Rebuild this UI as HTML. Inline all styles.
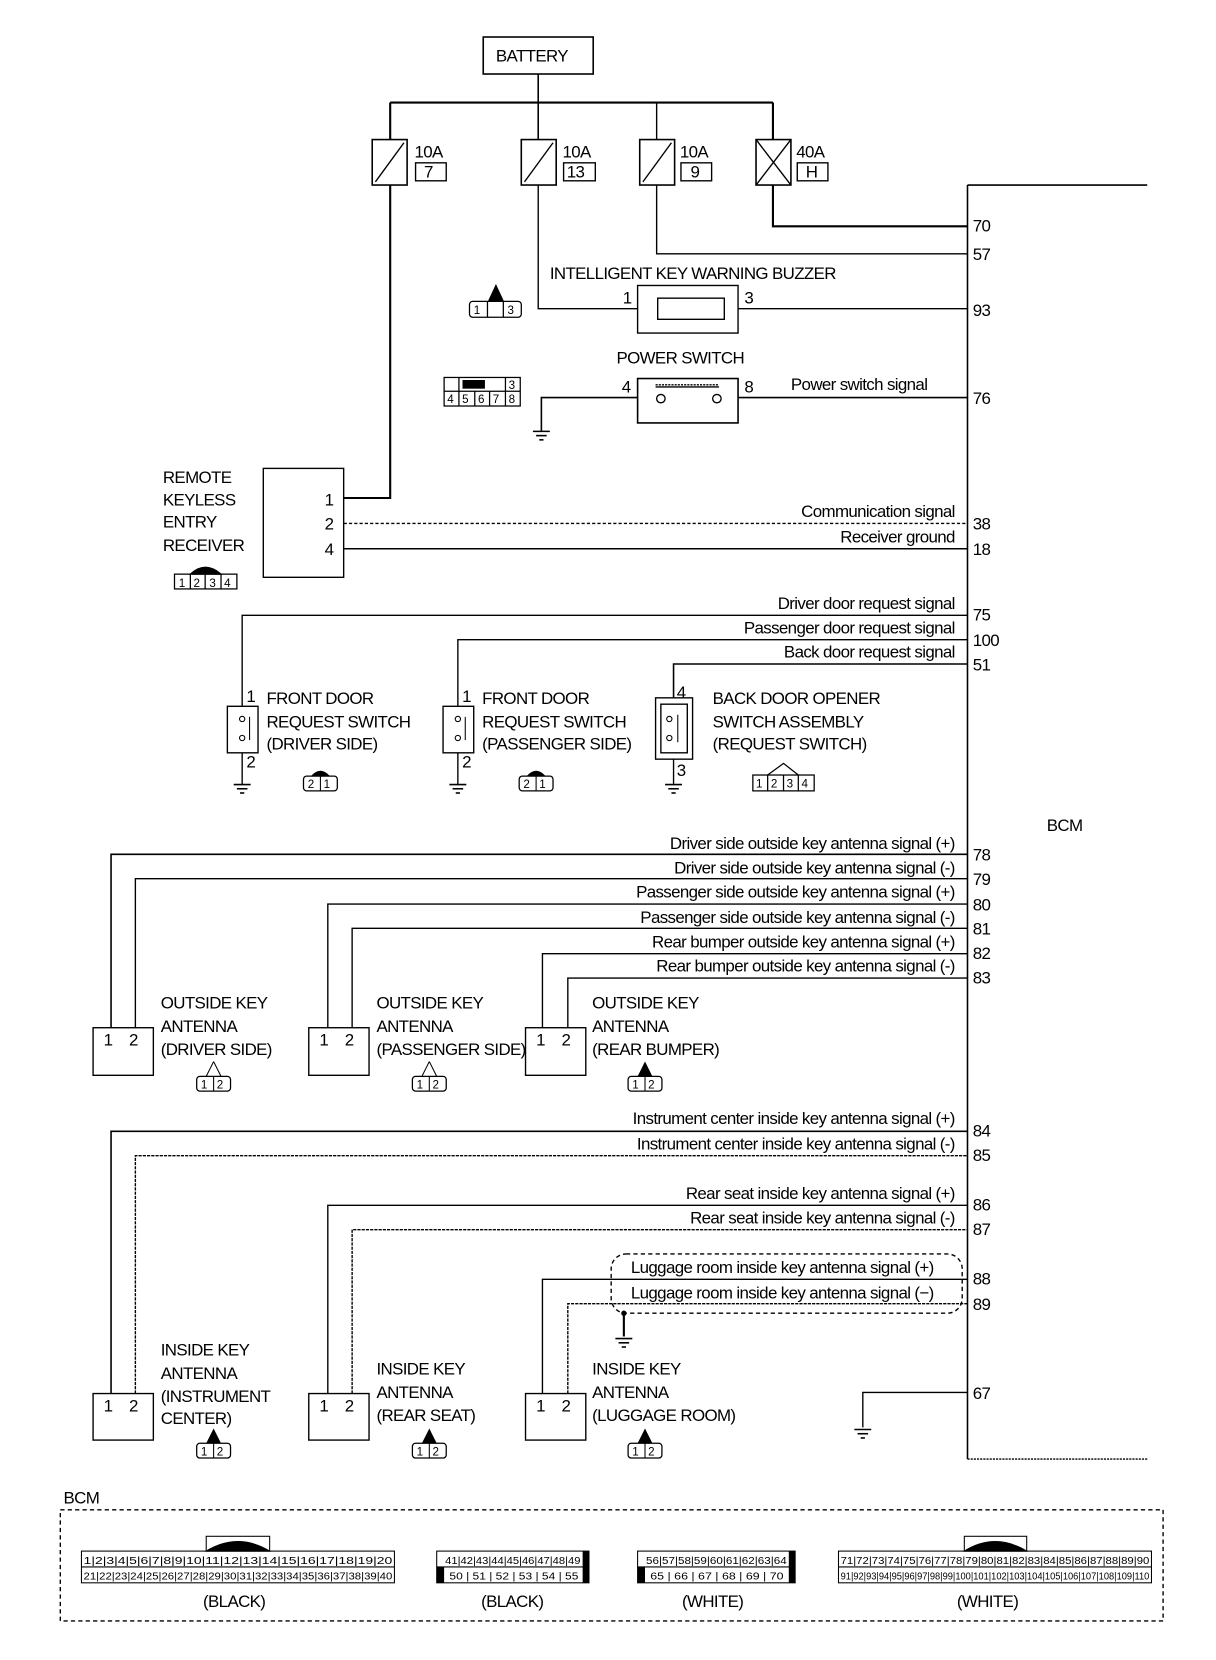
<!DOCTYPE html>
<html><head><meta charset="utf-8"><style>
html,body{margin:0;padding:0;background:#fff}
svg{display:block}
text{font-family:"Liberation Sans Narrow","Liberation Sans",Arial,sans-serif;fill:#000}
.t text{letter-spacing:-0.6px}
</style></head><body>
<svg width="1216" height="1660" viewBox="0 0 1150 1570" xmlns="http://www.w3.org/2000/svg">
<defs>
<g id="gnd"><line x1="-8" y1="0" x2="8" y2="0" stroke="#000" stroke-width="1.5"/><line x1="-5" y1="4" x2="5" y2="4" stroke="#000" stroke-width="1.5"/><line x1="-2" y1="8" x2="2" y2="8" stroke="#000" stroke-width="1.5"/></g>
<g id="c12"><rect x="0" y="0" width="32" height="14" rx="3" fill="#fff" stroke="#000" stroke-width="1.2"/><line x1="16" y1="0" x2="16" y2="14" stroke="#000"/><text x="4" y="11.5" font-size="11">1</text><text x="19" y="11.5" font-size="11">2</text></g>
<g id="c21"><rect x="0" y="0" width="32" height="14" rx="3" fill="#fff" stroke="#000" stroke-width="1.2"/><line x1="16" y1="0" x2="16" y2="14" stroke="#000"/><text x="4" y="11.5" font-size="11">2</text><text x="19" y="11.5" font-size="11">1</text><path d="M7 0 Q16 -10 25 0Z" fill="#000"/></g>
</defs>
<g fill="none" stroke="#000" stroke-width="1.3">
<rect x="457" y="35" width="104" height="35" stroke-width="1.5"/>
<line x1="509" y1="70" x2="509" y2="97" stroke-width="1.5"/>
<line x1="369" y1="97" x2="731" y2="97" stroke-width="2"/>
<line x1="369" y1="97" x2="369" y2="132" stroke-width="2"/>
<line x1="509" y1="97" x2="509" y2="132" stroke-width="1.5"/>
<line x1="621" y1="97" x2="621" y2="132"/>
<line x1="731" y1="97" x2="731" y2="132" stroke-width="2"/>
<rect x="352" y="132" width="33" height="43" stroke-width="1.5"/><line x1="355" y1="172" x2="382" y2="135"/>
<rect x="493" y="132" width="33" height="43" stroke-width="1.5"/><line x1="496" y1="172" x2="523" y2="135"/>
<rect x="605" y="132" width="33" height="43" stroke-width="1.5"/><line x1="608" y1="172" x2="635" y2="135"/>
<rect x="715" y="132" width="33" height="43" stroke-width="1.5"/><line x1="715" y1="132" x2="748" y2="175"/><line x1="748" y1="132" x2="715" y2="175"/>
<rect x="393" y="154" width="29" height="17"/><rect x="533" y="154" width="30" height="17"/><rect x="644" y="154" width="29" height="17"/><rect x="754" y="154" width="29" height="17"/>
<polyline points="369,175 369,471 325,471" stroke-width="2"/>
<polyline points="509,175 509,292 603,292"/>
<polyline points="621,175 621,240 915,240"/>
<polyline points="731,175 731,214 915,214" stroke-width="2"/>
<line x1="915" y1="175" x2="915" y2="1380" stroke-width="1.5"/>
<line x1="915" y1="175" x2="1085" y2="175" stroke-width="1.5"/>
<line x1="915" y1="1380" x2="1085" y2="1380" stroke-dasharray="2,1"/>
<rect x="603" y="270" width="95" height="45"/>
<rect x="622" y="282" width="63" height="20"/>
<line x1="698" y1="292" x2="915" y2="292"/>
<rect x="603" y="358" width="95" height="42" stroke-width="1.5"/>
<line x1="620" y1="364" x2="680" y2="364" stroke-dasharray="2,1"/>
<line x1="620" y1="366" x2="680" y2="366"/>
<circle cx="625" cy="377" r="4" fill="#fff"/><circle cx="678" cy="377" r="4" fill="#fff"/>
<polyline points="603,376 512,376 512,408" stroke-width="1.5"/>
<line x1="698" y1="376" x2="915" y2="376" stroke-width="1.5"/>
<rect x="249" y="443" width="76" height="103"/>
<line x1="325" y1="495" x2="915" y2="495" stroke-dasharray="3,2"/>
<line x1="325" y1="519" x2="915" y2="519" stroke-width="1.5"/>
<polyline points="229,668 229,582 915,582"/>
<polyline points="433,668 433,605 915,605"/>
<polyline points="637,660 637,628 915,628" stroke-width="1.5"/>
<rect x="215" y="668" width="29" height="44"/><line x1="229" y1="712" x2="229" y2="742"/>
<rect x="419" y="668" width="29" height="44"/><line x1="433" y1="712" x2="433" y2="742"/>
<rect x="620" y="660" width="35" height="58"/><rect x="625" y="666" width="25" height="46"/><line x1="637" y1="718" x2="637" y2="742"/>
<g stroke-width="1"><circle cx="229" cy="680" r="2.5"/><circle cx="229" cy="698" r="2.5"/><line x1="236" y1="678" x2="236" y2="700"/>
<circle cx="433" cy="680" r="2.5"/><circle cx="433" cy="698" r="2.5"/><line x1="440" y1="678" x2="440" y2="700"/>
<circle cx="633" cy="680" r="2.5"/><circle cx="633" cy="698" r="2.5"/><line x1="641" y1="676" x2="641" y2="702"/></g>
<polyline points="105,972 105,808 915,808" stroke-width="1.5"/>
<polyline points="128,972 128,831 915,831"/>
<polyline points="310,972 310,855 915,855"/>
<polyline points="333,972 333,878 915,878"/>
<polyline points="513,972 513,902 915,902"/>
<polyline points="537,972 537,925 915,925"/>
<rect x="88" y="972" width="57" height="45"/><rect x="292" y="972" width="57" height="45"/><rect x="497" y="972" width="57" height="45"/>
<polyline points="105,1318 105,1070 915,1070" stroke-width="1.5"/>
<polyline points="128,1318 128,1093 915,1093" stroke-dasharray="3,1"/>
<polyline points="310,1318 310,1140 915,1140"/>
<polyline points="333,1318 333,1163 915,1163" stroke-dasharray="3,1"/>
<polyline points="513,1318 513,1210 915,1210"/>
<polyline points="537,1318 537,1233 915,1233" stroke-dasharray="3,1"/>
<rect x="88" y="1318" width="57" height="44"/><rect x="292" y="1318" width="57" height="44"/><rect x="497" y="1318" width="57" height="44"/>
<rect x="578" y="1186" width="332" height="56" rx="14" stroke-dasharray="4,3"/>
<line x1="590" y1="1242" x2="590" y2="1264" stroke-width="2"/>
<polyline points="915,1317 816,1317 816,1350"/>
<rect x="57" y="1428" width="1043" height="105" stroke-dasharray="4,3"/>
</g>
<use href="#gnd" x="512" y="408"/><use href="#gnd" x="229" y="742"/><use href="#gnd" x="433" y="742"/><use href="#gnd" x="637" y="742"/><use href="#gnd" x="590" y="1266"/><use href="#gnd" x="816" y="1352"/>
<circle cx="590" cy="1242" r="2.5" fill="#000"/>
<g font-size="16" class="t">
<text x="469" y="58">BATTERY</text>
<text x="392" y="149">10A</text><text x="401" y="168">7</text>
<text x="532" y="149">10A</text><text x="536" y="168">13</text>
<text x="643" y="149">10A</text><text x="653" y="168">9</text>
<text x="753" y="149">40A</text><text x="762" y="168">H</text>
<text x="520" y="264">INTELLIGENT KEY WARNING BUZZER</text>
<text x="589" y="287">1</text><text x="704" y="287">3</text>
<text x="583" y="344">POWER SWITCH</text>
<text x="588" y="371">4</text><text x="704" y="371">8</text>
<text x="748" y="369">Power switch signal</text>
<text x="154" y="457">REMOTE</text><text x="154" y="478">KEYLESS</text><text x="154" y="499">ENTRY</text><text x="154" y="521">RECEIVER</text>
<text x="307" y="478">1</text><text x="307" y="501">2</text><text x="307" y="525">4</text>
<g text-anchor="end">
<text x="903" y="489">Communication signal</text><text x="903" y="513">Receiver ground</text>
<text x="903" y="576">Driver door request signal</text><text x="903" y="599">Passenger door request signal</text><text x="903" y="622">Back door request signal</text>
<text x="903" y="803">Driver side outside key antenna signal (+)</text>
<text x="903" y="826">Driver side outside key antenna signal (-)</text>
<text x="903" y="849">Passenger side outside key antenna signal (+)</text>
<text x="903" y="873">Passenger side outside key antenna signal (-)</text>
<text x="903" y="896">Rear bumper outside key antenna signal (+)</text>
<text x="903" y="919">Rear bumper outside key antenna signal (-)</text>
<text x="903" y="1063">Instrument center inside key antenna signal (+)</text>
<text x="903" y="1087">Instrument center inside key antenna signal (-)</text>
<text x="903" y="1134">Rear seat inside key antenna signal (+)</text>
<text x="903" y="1157">Rear seat inside key antenna signal (-)</text>
<text x="883" y="1204">Luggage room inside key antenna signal (+)</text>
<text x="883" y="1228">Luggage room inside key antenna signal (−)</text>
</g>
<text x="233" y="664">1</text><text x="233" y="726">2</text>
<text x="437" y="664">1</text><text x="437" y="726">2</text>
<text x="640" y="660">4</text><text x="640" y="734">3</text>
<text x="252" y="666">FRONT DOOR</text><text x="252" y="688">REQUEST SWITCH</text><text x="252" y="709">(DRIVER SIDE)</text>
<text x="456" y="666">FRONT DOOR</text><text x="456" y="688">REQUEST SWITCH</text><text x="456" y="709">(PASSENGER SIDE)</text>
<text x="674" y="666">BACK DOOR OPENER</text><text x="674" y="688">SWITCH ASSEMBLY</text><text x="674" y="709">(REQUEST SWITCH)</text>
<text x="990" y="786">BCM</text>
<text x="920" y="219">70</text><text x="920" y="246">57</text><text x="920" y="299">93</text><text x="920" y="382">76</text>
<text x="920" y="501">38</text><text x="920" y="525">18</text><text x="920" y="587">75</text><text x="920" y="611">100</text><text x="920" y="634">51</text>
<text x="920" y="814">78</text><text x="920" y="837">79</text><text x="920" y="861">80</text><text x="920" y="884">81</text><text x="920" y="907">82</text><text x="920" y="930">83</text>
<text x="920" y="1075">84</text><text x="920" y="1098">85</text><text x="920" y="1145">86</text><text x="920" y="1168">87</text><text x="920" y="1215">88</text><text x="920" y="1239">89</text><text x="920" y="1323">67</text>
<text x="98" y="989">1</text><text x="122" y="989">2</text><text x="302" y="989">1</text><text x="326" y="989">2</text><text x="507" y="989">1</text><text x="531" y="989">2</text>
<text x="152" y="954">OUTSIDE KEY</text><text x="152" y="976">ANTENNA</text><text x="152" y="998">(DRIVER SIDE)</text>
<text x="356" y="954">OUTSIDE KEY</text><text x="356" y="976">ANTENNA</text><text x="356" y="998">(PASSENGER SIDE)</text>
<text x="560" y="954">OUTSIDE KEY</text><text x="560" y="976">ANTENNA</text><text x="560" y="998">(REAR BUMPER)</text>
<text x="98" y="1335">1</text><text x="122" y="1335">2</text><text x="302" y="1335">1</text><text x="326" y="1335">2</text><text x="507" y="1335">1</text><text x="531" y="1335">2</text>
<text x="152" y="1282">INSIDE KEY</text><text x="152" y="1304">ANTENNA</text><text x="152" y="1326">(INSTRUMENT</text><text x="152" y="1347">CENTER)</text>
<text x="356" y="1300">INSIDE KEY</text><text x="356" y="1322">ANTENNA</text><text x="356" y="1344">(REAR SEAT)</text>
<text x="560" y="1300">INSIDE KEY</text><text x="560" y="1322">ANTENNA</text><text x="560" y="1344">(LUGGAGE ROOM)</text>
<text x="60" y="1422">BCM</text>
<text x="192" y="1520">(BLACK)</text><text x="455" y="1520">(BLACK)</text><text x="645" y="1520">(WHITE)</text><text x="905" y="1520">(WHITE)</text>
</g>
<g stroke="#000" fill="#fff" stroke-width="1.2">
<rect x="444" y="285" width="49" height="15" rx="3"/><line x1="461" y1="285" x2="461" y2="300"/><line x1="476" y1="285" x2="476" y2="300"/>
<path d="M469 270 L462 285 L476 285Z" fill="#000"/>
<rect x="420" y="357" width="72" height="27"/><line x1="420" y1="370" x2="492" y2="370"/>
<line x1="434" y1="357" x2="434" y2="384"/><line x1="449" y1="370" x2="449" y2="384"/><line x1="463" y1="370" x2="463" y2="384"/><line x1="478" y1="357" x2="478" y2="384"/>
<rect x="438" y="360" width="20" height="7" fill="#000"/>
<rect x="165" y="543" width="59" height="14"/><line x1="180" y1="543" x2="180" y2="557"/><line x1="194" y1="543" x2="194" y2="557"/><line x1="209" y1="543" x2="209" y2="557"/>
<path d="M180 543 Q194 530 209 543Z" fill="#000"/>
<rect x="712" y="733" width="58" height="15"/><line x1="726" y1="733" x2="726" y2="748"/><line x1="741" y1="733" x2="741" y2="748"/><line x1="755" y1="733" x2="755" y2="748"/>
<path d="M726 733 L741 722 L755 733" fill="none"/>
</g>
<g font-size="11">
<text x="448" y="297">1</text><text x="480" y="297">3</text>
<text x="481" y="368">3</text><text x="423" y="381">4</text><text x="437" y="381">5</text><text x="452" y="381">6</text><text x="466" y="381">7</text><text x="481" y="381">8</text>
<text x="169" y="555">1</text><text x="183" y="555">2</text><text x="198" y="555">3</text><text x="212" y="555">4</text>
<text x="715" y="745">1</text><text x="729" y="745">2</text><text x="744" y="745">3</text><text x="758" y="745">4</text>
</g>
<use href="#c21" x="287" y="734"/><use href="#c21" x="491" y="734"/>
<use href="#c12" x="186" y="1018"/><use href="#c12" x="390" y="1018"/><use href="#c12" x="594" y="1018"/>
<path d="M202 1004 L195 1018 M202 1004 L209 1018" stroke="#000" fill="none"/>
<path d="M406 1004 L399 1018 M406 1004 L413 1018" stroke="#000" fill="none"/>
<path d="M610 1004 L603 1018 L617 1018Z" fill="#000"/>
<use href="#c12" x="186" y="1365"/><use href="#c12" x="390" y="1365"/><use href="#c12" x="594" y="1365"/>
<path d="M202 1351 L195 1365 L209 1365Z" fill="#000"/><path d="M406 1351 L399 1365 L413 1365Z" fill="#000"/><path d="M610 1351 L603 1365 L617 1365Z" fill="#000"/>
<g stroke="#000" stroke-width="1" fill="#fff">
<rect x="77" y="1467" width="296" height="30"/><line x1="77" y1="1482" x2="373" y2="1482"/>
<rect x="195" y="1453" width="60" height="14"/><path d="M195 1467 Q225 1449 255 1467Z" fill="#000"/>
<rect x="413" y="1467" width="144" height="30"/><line x1="413" y1="1482" x2="557" y2="1482"/>
<rect x="603" y="1467" width="149" height="30"/><line x1="603" y1="1482" x2="752" y2="1482"/>
<rect x="793" y="1467" width="296" height="30"/><line x1="793" y1="1482" x2="1089" y2="1482"/>
<rect x="912" y="1453" width="59" height="14"/><path d="M912 1467 Q941 1449 971 1467Z" fill="#000"/>
</g>
<g fill="#000"><rect x="413" y="1482" width="7" height="15"/><rect x="551" y="1467" width="6" height="30"/><rect x="603" y="1482" width="7" height="15"/><rect x="746" y="1467" width="6" height="30"/></g>
<g font-size="10">
<text x="79" y="1479" textLength="292" lengthAdjust="spacingAndGlyphs">1|2|3|4|5|6|7|8|9|10|11|12|13|14|15|16|17|18|19|20</text>
<text x="79" y="1494" textLength="292" lengthAdjust="spacingAndGlyphs">21|22|23|24|25|26|27|28|29|30|31|32|33|34|35|36|37|38|39|40</text>
<text x="421" y="1479" textLength="128" lengthAdjust="spacingAndGlyphs">41|42|43|44|45|46|47|48|49</text>
<text x="425" y="1494" textLength="122" lengthAdjust="spacingAndGlyphs">50 | 51 | 52 | 53 | 54 | 55</text>
<text x="611" y="1479" textLength="133" lengthAdjust="spacingAndGlyphs">56|57|58|59|60|61|62|63|64</text>
<text x="615" y="1494" textLength="126" lengthAdjust="spacingAndGlyphs">65 | 66 | 67 | 68 | 69 | 70</text>
<text x="795" y="1479" textLength="292" lengthAdjust="spacingAndGlyphs">71|72|73|74|75|76|77|78|79|80|81|82|83|84|85|86|87|88|89|90</text>
<text x="795" y="1494" textLength="292" lengthAdjust="spacingAndGlyphs">91|92|93|94|95|96|97|98|99|100|101|102|103|104|105|106|107|108|109|110</text>
</g>
</svg>
</body></html>
